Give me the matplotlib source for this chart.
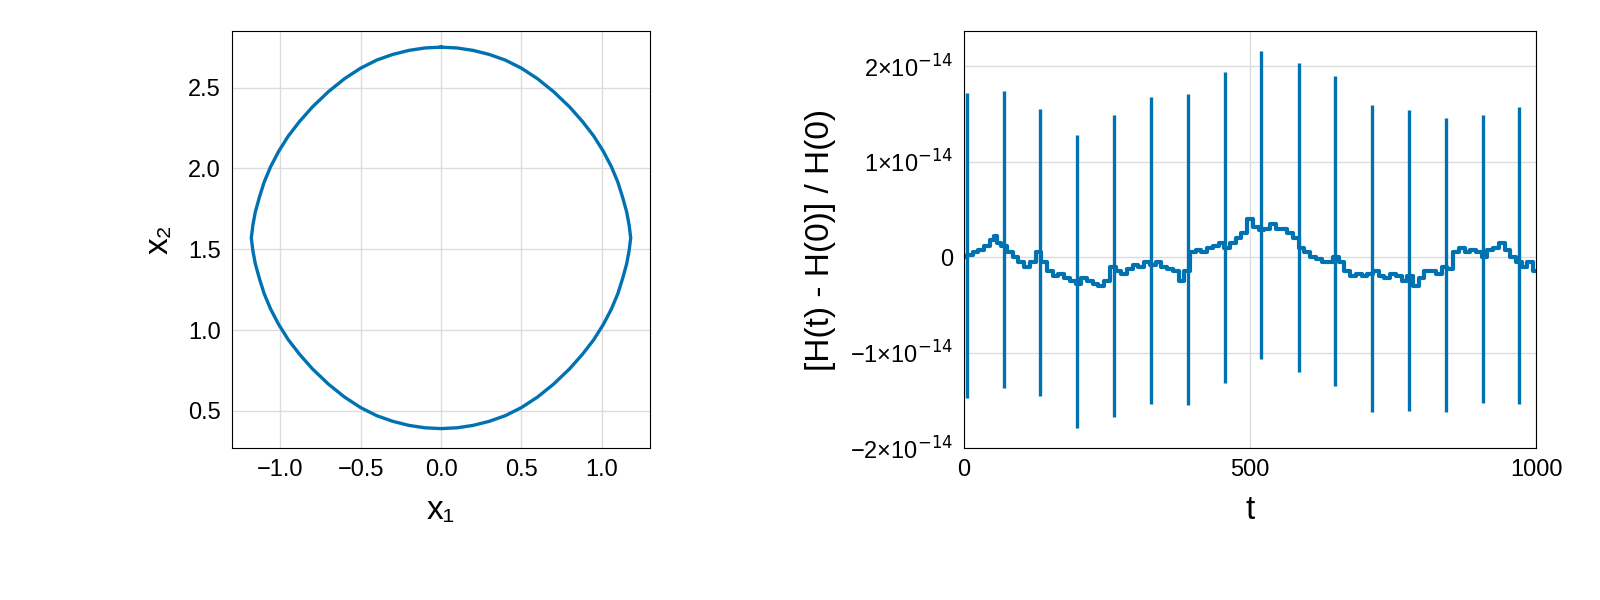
import numpy as np
import matplotlib.pyplot as plt
from matplotlib.ticker import FuncFormatter

plt.rcParams['font.family'] = ['Liberation Sans', 'DejaVu Sans']

# first-quadrant orbit points relative to centre (0, 1.57)
q_dx = [0.0, 0.1, 0.2, 0.3, 0.4, 0.5, 0.6, 0.7, 0.8, 0.88, 0.95, 1.01, 1.06, 1.10, 1.13, 1.155, 1.17, 1.18]
q_dy = [1.18, 1.175, 1.16, 1.135, 1.10, 1.05, 0.985, 0.905, 0.81, 0.72, 0.63, 0.535, 0.44, 0.345, 0.25, 0.16, 0.08, 0.0]
center_y = 1.57

spike_t = [5, 70, 133, 198, 262, 327, 392, 456, 520, 585, 649, 714, 778, 842, 907, 971]
spike_top = [1.72, 1.74, 1.55, 1.28, 1.49, 1.68, 1.71, 1.94, 2.16, 2.03, 1.90, 1.59, 1.54, 1.46, 1.49, 1.57]
spike_bot = [-1.48, -1.37, -1.46, -1.79, -1.68, -1.54, -1.55, -1.32, -1.07, -1.20, -1.35, -1.62, -1.61, -1.62, -1.53, -1.54]
base_t = [0, 10, 20, 30, 40, 50, 55, 60, 70, 80, 90, 100, 110, 120, 130, 140, 150, 160, 170, 180, 190,
          200, 210, 220, 230, 240, 250, 262, 270, 280, 290, 300, 310, 320, 330, 340, 350, 360, 370, 380, 390,
          400, 410, 420, 430, 440, 450, 460, 470, 480, 490, 500, 510, 520, 530, 540, 550, 560, 570, 580, 590,
          600, 610, 620, 630, 640, 650, 660, 670, 680, 690, 700, 710, 720, 730, 740, 750, 760, 770, 780, 790,
          800, 810, 820, 830, 840, 850, 860, 870, 880, 890, 900, 910, 920, 930, 940, 950, 960, 970, 980, 990, 1000]
base_v = [0, 0.02, 0.05, 0.08, 0.12, 0.18, 0.22, 0.15, 0.12, 0.05, 0.0, -0.05, -0.1, -0.05, 0.05, -0.05, -0.15, -0.2, -0.18, -0.22, -0.25,
          -0.28, -0.22, -0.25, -0.28, -0.3, -0.25, -0.1, -0.15, -0.18, -0.12, -0.08, -0.1, -0.05, -0.08, -0.05, -0.1, -0.12, -0.15, -0.25, -0.15,
          0.05, 0.08, 0.05, 0.1, 0.12, 0.15, 0.1, 0.15, 0.2, 0.25, 0.4, 0.32, 0.28, 0.3, 0.35, 0.3, 0.3, 0.25, 0.2, 0.1,
          0.05, 0.0, -0.02, -0.05, -0.05, 0.0, -0.05, -0.15, -0.2, -0.18, -0.2, -0.18, -0.15, -0.2, -0.22, -0.18, -0.2, -0.25, -0.2, -0.3,
          -0.22, -0.15, -0.15, -0.18, -0.1, -0.12, 0.05, 0.1, 0.05, 0.08, 0.05, 0.0, 0.08, 0.1, 0.15, 0.08, 0.0, -0.05, -0.1, -0.05, -0.15]

blue = '#0072b2'
fig = plt.figure(figsize=(16, 6), dpi=100)

def style(ax):
    ax.grid(True, color='#dcdcdc', linewidth=1)
    ax.set_axisbelow(True)
    ax.tick_params(length=0, labelsize=17, pad=8)

ax1 = fig.add_axes([232/1600, 152/600, 418/1600, 417/600])
qx = np.array(q_dx); qy = np.array(q_dy)
xs = np.concatenate([qx, qx[::-1][1:], -qx[1:], -qx[::-1][1:]])
ys = np.concatenate([qy, -qy[::-1][1:], -qy[1:], qy[::-1][1:]]) + center_y
ax1.plot(xs, ys, color=blue, lw=2.4, solid_joinstyle='round')
ax1.set_xlim(-1.3, 1.3); ax1.set_ylim(0.27, 2.85)
ax1.set_xticks([-1.0, -0.5, 0.0, 0.5, 1.0]); ax1.set_yticks([0.5, 1.0, 1.5, 2.0, 2.5])
ax1.xaxis.set_major_formatter(FuncFormatter(lambda v, p: f"{v:.1f}".replace('-', '−')))
style(ax1)
ax1.set_xlabel('x₁', fontsize=24, labelpad=10)
ax1.set_ylabel('x₂', fontsize=24, labelpad=10)

ax2 = fig.add_axes([964/1600, 152/600, 572/1600, 417/600])
ax2.plot(base_t, np.array(base_v)*1e-14, color=blue, lw=3, drawstyle='steps-mid')
ax2.vlines(spike_t, np.array(spike_bot)*1e-14, np.array(spike_top)*1e-14, color=blue, lw=2.4)
ax2.set_xlim(0, 1000); ax2.set_ylim(-2e-14, 2.37e-14)
ax2.set_xticks([0, 500, 1000]); ax2.set_yticks([-2e-14, -1e-14, 0, 1e-14, 2e-14])
def fmt(v, p):
    n = round(v / 1e-14)
    if n == 0:
        return '0'
    return ('−' if n < 0 else '') + f"{abs(n)}×10$^{{−14}}$"
ax2.yaxis.set_major_formatter(FuncFormatter(fmt))
style(ax2)
ax2.set_xlabel('t', fontsize=24, labelpad=10)
ax2.set_ylabel('[H(t) - H(0)] / H(0)', fontsize=24, labelpad=10)

fig.savefig('out.png')
